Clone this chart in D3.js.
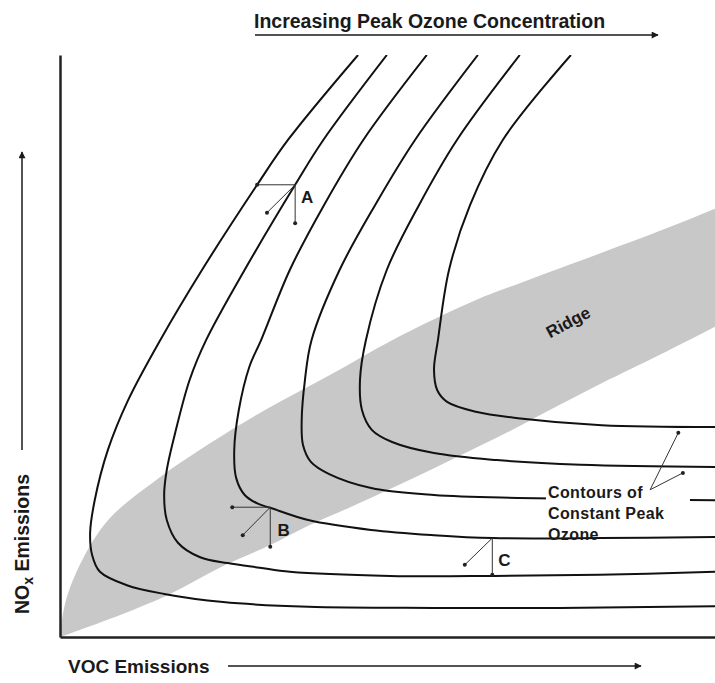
<!DOCTYPE html>
<html>
<head>
<meta charset="utf-8">
<script src="https://cdn.jsdelivr.net/npm/d3@7"></script>
<style>
  body { margin: 0; background: #fff; }
  svg { display: block; }
  text { font-family: "Liberation Sans", Arial, sans-serif; font-weight: bold; fill: #1a1a1a; }
</style>
</head>
<body>
<script>
// Ozone isopleth sketch: axes are relative VOC / NOx emissions (0-100)
const contour1 = [[45.5,100],[34.8,85.4],[30.1,77.7],[21.7,63.1],[15.3,51.0],[10.4,40.7],[7.3,32.1],[5.3,23.5],[4.6,17.9],[4.9,14.1],[6.1,11.2],[10.2,8.9],[15.9,7.4],[24.9,6.0],[37.9,5.2],[57.1,5.0],[76.3,5.0],[100,5.3]];
const contour2 = [[49.9,100],[40.2,85.4],[35.9,77.7],[28.2,63.1],[22.3,51.0],[19.8,44.2],[17.7,35.6],[16.3,28.7],[15.9,24.4],[16.3,20.1],[18.0,16.2],[21.4,13.7],[25.6,12.7],[30.5,11.9],[35.1,11.2],[50.4,10.5],[66.1,10.5],[82.4,10.7],[100,11.2]];
const contour3 = [[56.0,100],[46.3,85.4],[40.3,74.2],[35.1,63.1],[30.7,51.0],[28.9,46.4],[27.3,39.0],[26.6,32.1],[26.9,27.3],[28.2,24.4],[30.2,22.9],[32.1,22.2],[37.9,20.1],[47.5,18.4],[57.1,17.5],[66.1,17.0],[82.4,17.0],[100,17.2]];
const contour4 = [[63.8,100],[54.2,85.4],[48.1,74.2],[42.7,63.1],[38.4,51.0],[37.4,44.2],[36.9,37.3],[37.1,33.0],[38.3,30.1],[41.1,28.0],[47.5,25.6],[57.1,24.4],[69.9,23.9],[100,23.5]];
const contour5 = [[70.2,100],[60.6,85.4],[54.8,74.2],[49.9,63.1],[46.7,51.0],[45.8,44.2],[46.1,39.0],[47.6,35.6],[50.7,33.5],[57.1,31.6],[66.7,30.4],[79.5,29.6],[100,29.2]];
const contour6 = [[78.0,100],[67.6,85.4],[62.6,74.2],[59.4,63.1],[57.7,51.0],[57.1,45.9],[57.6,42.4],[59.1,40.4],[63.5,38.7],[69.9,37.6],[82.7,36.4],[100,36.1]];
const contours = [contour1, contour2, contour3, contour4, contour5, contour6];

// grey "ridge" band, upper and lower edges (run a little past the frame, clipped)
const ridgeUpper = [[0,0],[0.5,4.3],[1.5,8.4],[3.8,14.1],[7.6,20.4],[15.3,27.5],[22.9,33.3],[31.3,39.0],[41.2,45.0],[50.7,51.0],[63.5,57.9],[70.7,61.0],[82.4,65.9],[91.6,69.8],[100,73.6],[106,76.4]];
const ridgeLower = [[0,0],[9.2,3.8],[16.8,7.4],[24.9,12.2],[32.1,15.8],[37.9,19.1],[44.3,22.3],[50.7,25.6],[57.1,29.0],[63.5,32.5],[69.9,36.1],[76.3,39.9],[82.7,43.6],[91.6,48.5],[100,53.3],[106,56.8]];

// A, B, C marks: corner, then the ends of the short lines
const markNames = ["A", "B", "C"];
const markCorners = [[35.9,77.7],[32.1,22.3],[66.0,17.0]];
const markEnds = [
  [[30.1,77.7],[35.9,71.1],[31.6,72.9]],
  [[26.3,22.3],[32.1,15.5],[27.9,17.5]],
  [[66.0,10.7],[61.8,12.4]]
];
const markLabels = [[36.8,74.6],[33.2,17.4],[66.9,12.2]];

const contourNote = ["Contours of", "Constant Peak", "Ozone"];
const noteAt = [74.5, 23.9];
const leaderFrom = [90.1, 25.3];
const leaderTo = [[94.4,35.1],[95.1,28.2]];

const W = 715, H = 683;

const svg = d3.select("body").append("svg")
    .attr("width", W)
    .attr("height", H);

const x = d3.scaleLinear().domain([0, 100]).range([60, 715]);
const y = d3.scaleLinear().domain([0, 100]).range([637, 55]);

const defs = svg.append("defs");
defs.append("clipPath").attr("id", "plot")
  .append("rect")
    .attr("x", x(0)).attr("y", y(100))
    .attr("width", x(100) - x(0)).attr("height", y(0) - y(100));

defs.append("marker")
    .attr("id", "arrow")
    .attr("viewBox", "0 0 10 10")
    .attr("refX", 9).attr("refY", 5)
    .attr("markerWidth", 9).attr("markerHeight", 7)
    .attr("markerUnits", "userSpaceOnUse")
    .attr("orient", "auto")
  .append("path")
    .attr("d", "M0,0 L10,5 L0,10 Z")
    .attr("fill", "#1a1a1a");

const plot = svg.append("g").attr("clip-path", "url(#plot)");

// ridge band
const line = d3.line()
    .x(d => x(d[0]))
    .y(d => y(d[1]))
    .curve(d3.curveCatmullRom.alpha(0.5));

const bandPts = ridgeUpper.concat(ridgeLower.slice().reverse());
plot.append("path")
    .attr("d", line(bandPts) + "Z")
    .attr("fill", "#c8c8c8")
    .attr("stroke", "none");

// contours
plot.selectAll("path.contour")
    .data(contours)
    .enter().append("path")
    .attr("class", "contour")
    .attr("d", line)
    .attr("fill", "none")
    .attr("stroke", "#111")
    .attr("stroke-width", 2);

// axes, no ticks
svg.append("g")
    .attr("transform", `translate(${x(0)},0)`)
    .call(d3.axisLeft(y).ticks(0).tickSizeOuter(0))
    .select(".domain").attr("stroke", "#222").attr("stroke-width", 2.5);
svg.append("g")
    .attr("transform", `translate(0,${y(0)})`)
    .call(d3.axisBottom(x).ticks(0).tickSizeOuter(0))
    .select(".domain").attr("stroke", "#222").attr("stroke-width", 2.5);

// A, B, C marks
const marks = svg.append("g");
markNames.forEach(function (name, i) {
    const c = markCorners[i];
    markEnds[i].forEach(function (e) {
        marks.append("line")
            .attr("x1", x(c[0])).attr("y1", y(c[1]))
            .attr("x2", x(e[0])).attr("y2", y(e[1]))
            .attr("stroke", "#333").attr("stroke-width", 1);
        marks.append("circle")
            .attr("cx", x(e[0])).attr("cy", y(e[1]))
            .attr("r", 2).attr("fill", "#222");
    });
    marks.append("text")
        .attr("x", x(markLabels[i][0]))
        .attr("y", y(markLabels[i][1]))
        .attr("font-size", 17)
        .text(name);
});

// contour note with a white backing, as in the original
const note = svg.append("g");
note.append("rect")
    .attr("x", x(noteAt[0]) - 2).attr("y", y(noteAt[1]) - 15)
    .attr("width", 144).attr("height", 37)
    .attr("fill", "#fff");
contourNote.forEach(function (t, i) {
    note.append("text")
        .attr("x", x(noteAt[0]))
        .attr("y", y(noteAt[1]) + i * 21)
        .attr("font-size", 16)
        .attr("letter-spacing", 0.4)
        .text(t);
});
leaderTo.forEach(function (e) {
    note.append("line")
        .attr("x1", x(leaderFrom[0])).attr("y1", y(leaderFrom[1]))
        .attr("x2", x(e[0])).attr("y2", y(e[1]))
        .attr("stroke", "#333").attr("stroke-width", 1);
    note.append("circle")
        .attr("cx", x(e[0])).attr("cy", y(e[1]))
        .attr("r", 2).attr("fill", "#222");
});

// Ridge label
svg.append("text")
    .attr("transform", `translate(${x(78.0)},${y(53.2)}) rotate(-28)`)
    .attr("text-anchor", "middle")
    .attr("font-size", 17)
    .text("Ridge");

// top arrow + title
svg.append("text")
    .attr("x", 254).attr("y", 28)
    .attr("font-size", 19.5)
    .text("Increasing Peak Ozone Concentration");
svg.append("line")
    .attr("x1", 255).attr("y1", 35).attr("x2", 658).attr("y2", 35)
    .attr("stroke", "#1a1a1a").attr("stroke-width", 1.5)
    .attr("marker-end", "url(#arrow)");

// x label
svg.append("text")
    .attr("x", 68).attr("y", 673)
    .attr("font-size", 19)
    .text("VOC Emissions");
svg.append("line")
    .attr("x1", 228).attr("y1", 666).attr("x2", 641).attr("y2", 666)
    .attr("stroke", "#1a1a1a").attr("stroke-width", 1.5)
    .attr("marker-end", "url(#arrow)");

// y label
const yl = svg.append("text")
    .attr("transform", "translate(29,614) rotate(-90)")
    .attr("font-size", 19.5);
yl.append("tspan").text("NO");
yl.append("tspan").attr("font-size", 14).attr("dy", 4).text("x");
yl.append("tspan").attr("dy", -4).text(" Emissions");
svg.append("line")
    .attr("x1", 22).attr("y1", 450).attr("x2", 22).attr("y2", 152)
    .attr("stroke", "#1a1a1a").attr("stroke-width", 1.5)
    .attr("marker-end", "url(#arrow)");
</script>
</body>
</html>
